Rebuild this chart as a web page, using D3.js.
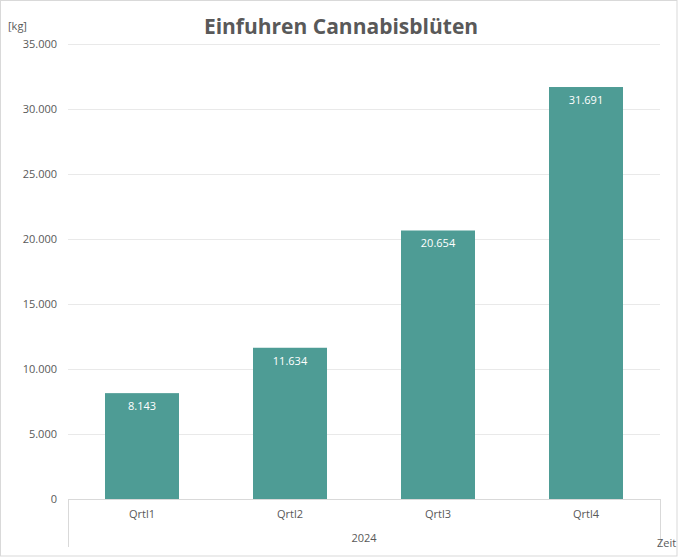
<!DOCTYPE html>
<html><head><meta charset="utf-8">
<script src="https://cdn.jsdelivr.net/npm/d3@7"></script>
<style>body{margin:0;background:#fff;} text{font-family:"Open Sans","Noto Sans",sans-serif;}</style>
</head><body><svg id="c" width="683" height="557"></svg>
<script>
const categories = ["Qrtl1","Qrtl2","Qrtl3","Qrtl4"];
const values = [8143, 11634, 20654, 31691];
const yTicks = [0,5000,10000,15000,20000,25000,30000,35000];
const groupLabel = "2024";
const title = "Einfuhren Cannabisblüten";
const yUnit = "[kg]";
const xUnit = "Zeit";

const svg = d3.select("#c");
const fmt = d3.formatLocale({decimal:",",thousands:".",grouping:[3],currency:["","€"]}).format(",");
const pLeft=68, pRight=660, pTop=44, pBottom=499;
svg.append("rect").attr("x",0.5).attr("y",0.5).attr("width",676.5).attr("height",555.5).attr("fill","#fff").attr("stroke","#d9d9d9");
const x = d3.scaleBand().domain(categories).range([pLeft,pRight]).paddingInner(0.5).paddingOuter(0.25);
const y = d3.scaleLinear().domain([0,35000]).range([pBottom,pTop]);

svg.append("g").selectAll("line").data(yTicks.filter(d=>d>0)).join("line")
  .attr("x1",pLeft).attr("x2",pRight).attr("y1",d=>y(d)+0.5).attr("y2",d=>y(d)+0.5)
  .attr("stroke","#e9e9e9").attr("stroke-width",1);
svg.append("g").selectAll("text").data(yTicks).join("text")
  .attr("x",57).attr("y",d=>y(d)+4).attr("text-anchor","end")
  .attr("font-size",11).attr("fill","#595959").text(d=>fmt(d));

svg.append("g").selectAll("rect").data(values).join("rect")
  .attr("x",(d,i)=>x(categories[i])).attr("width",x.bandwidth())
  .attr("y",d=>y(d)).attr("height",d=>pBottom-y(d)).attr("fill","#4e9c95");
svg.append("g").selectAll("text").data(values).join("text")
  .attr("x",(d,i)=>x(categories[i])+x.bandwidth()/2).attr("y",d=>y(d)+17)
  .attr("text-anchor","middle").attr("font-size",11).attr("fill","#fff").text(d=>fmt(d));

svg.append("line").attr("x1",pLeft).attr("x2",pRight).attr("y1",pBottom+0.5).attr("y2",pBottom+0.5).attr("stroke","#d9d9d9");
[pLeft,pRight].forEach(xx=>svg.append("line").attr("x1",xx+0.5).attr("x2",xx+0.5).attr("y1",pBottom).attr("y2",547).attr("stroke","#d9d9d9"));
svg.append("g").selectAll("text").data(categories).join("text")
  .attr("x",d=>x(d)+x.bandwidth()/2).attr("y",518).attr("text-anchor","middle")
  .attr("font-size",11).attr("fill","#595959").text(d=>d);
svg.append("text").attr("x",(pLeft+pRight)/2).attr("y",542).attr("text-anchor","middle")
  .attr("font-size",11).attr("fill","#595959").text(groupLabel);
svg.append("text").attr("x",657).attr("y",547).attr("font-size",11).attr("fill","#595959").text(xUnit);
svg.append("text").attr("x",8).attr("y",30).attr("font-size",11).attr("fill","#595959").text(yUnit);
svg.append("text").attr("x",341).attr("y",34).attr("text-anchor","middle")
  .attr("font-size",21).attr("font-weight","bold").attr("fill","#595959").text(title);
</script></body></html>
